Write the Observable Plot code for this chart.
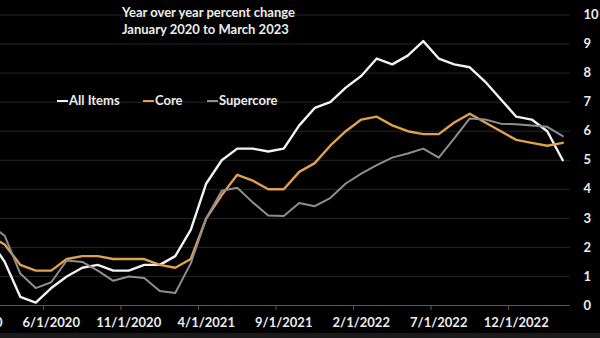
<!DOCTYPE html>
<html>
<head>
<meta charset="utf-8">
<script src="https://cdn.jsdelivr.net/npm/d3@7"></script>
<script src="https://cdn.jsdelivr.net/npm/@observablehq/plot@0.6"></script>
<style>
  html, body { margin: 0; padding: 0; background: #000; }
  #wrap { position: relative; width: 600px; height: 338px; overflow: hidden; background: #000;
          font-family: Lato, "Open Sans", sans-serif; font-weight: 700; color: #ececec; }
  #title { position: absolute; left: 122px; top: 4px; font-size: 13px; line-height: 17px; }
  .leg { position: absolute; top: 92px; font-size: 13px; line-height: 16px; white-space: nowrap; }
  .leg .sw { display: inline-block; width: 11px; height: 2px; vertical-align: middle; margin-right: 1px; position: relative; top: -1px; }
  #band { position: absolute; left: 0; top: 333px; width: 600px; height: 5px; background: #1b1b1b; }
  svg { display: block; }
</style>
</head>
<body>
<div id="wrap">
  <div id="chart"></div>
  <div id="title">Year over year percent change<br>January 2020 to March 2023</div>
  <div id="legend"></div>
  <div id="band"></div>
</div>
<script>
// Monthly year-over-year percent change, Jan 2020 .. Mar 2023
const allItems = [2.5,2.3,1.5,0.3,0.1,0.6,1.0,1.3,1.4,1.2,1.2,1.4,
                  1.4,1.7,2.6,4.2,5.0,5.4,5.4,5.3,5.4,6.2,6.8,7.0,
                  7.5,7.9,8.5,8.3,8.6,9.1,8.5,8.3,8.2,7.7,7.1,6.5,
                  6.4,6.0,5.0];
const core = [2.3,2.4,2.1,1.4,1.2,1.2,1.6,1.7,1.7,1.6,1.6,1.6,
              1.4,1.3,1.6,3.0,3.8,4.5,4.3,4.0,4.0,4.6,4.9,5.5,
              6.0,6.4,6.5,6.2,6.0,5.9,5.9,6.3,6.6,6.3,6.0,5.7,
              5.6,5.5,5.6];
const supercore = [2.8,2.8,2.4,1.1,0.6,0.8,1.55,1.5,1.2,0.85,1.0,0.95,
                   0.5,0.43,1.45,3.0,3.95,4.05,3.55,3.1,3.08,3.53,3.42,3.7,
                   4.2,4.54,4.83,5.09,5.23,5.4,5.09,5.75,6.44,6.4,6.26,6.24,
                   6.2,6.15,5.83];
const tickLabels = ["1/1/2020","6/1/2020","11/1/2020","4/1/2021","9/1/2021","2/1/2022","7/1/2022","12/1/2022"];
const tickIndex = [0,5,10,15,20,25,30,35];
const yTicks = [0,1,2,3,4,5,6,7,8,9,10];

const seriesNames = ["All Items","Core","Supercore"];
const seriesColors = ["#f2f2f2","#e0a04e","#8e8e8e"];
const seriesWidths = [2.4, 2.4, 2];
const seriesValues = [allItems, core, supercore];

const rows = seriesNames.flatMap((name, k) =>
  seriesValues[k].map((v, i) => ({series: name, i, v})));

const boundaries = tickIndex.map(i => i - 0.5);
const labelOf = new Map(tickIndex.map((t, k) => [t, tickLabels[k]]));

const chart = Plot.plot({
  width: 600,
  height: 333,
  marginLeft: 0,
  marginRight: 30,
  marginTop: 14.5,
  marginBottom: 28,
  style: {background: "#000", color: "#ececec", fontFamily: "Lato, 'Open Sans', sans-serif", fontSize: "13px", fontWeight: 700},
  x: {domain: [1.726, 38.5]},
  y: {domain: [0, 10]},
  marks: [
    Plot.gridY(yTicks.filter(d => d > 0), {stroke: "#262626", strokeOpacity: 1, strokeWidth: 1}),
    Plot.ruleY([0], {stroke: "#5a5a5a", strokeWidth: 1.2}),
    Plot.axisX({ticks: boundaries, tickSize: 5, stroke: "#5a5a5a", tickFormat: () => "", label: null}),
    Plot.axisX({ticks: tickIndex, tickSize: 0, tickPadding: 12, tickFormat: d => labelOf.get(d), label: null, fill: "#ececec"}),
    Plot.axisY({ticks: yTicks, anchor: "right", tickSize: 0, tickPadding: 13, textAnchor: "start", label: null, fill: "#ececec"}),
    ...seriesNames.map((name, k) =>
      Plot.line(rows.filter(r => r.series === name), {
        x: "i", y: "v", stroke: seriesColors[k], strokeWidth: seriesWidths[k], clip: true
      }))
  ]
});
document.getElementById("chart").appendChild(chart);

const legendLefts = [57, 143, 207];
const legend = document.getElementById("legend");
seriesNames.forEach((name, k) => {
  const d = document.createElement("div");
  d.className = "leg";
  d.style.left = legendLefts[k] + "px";
  d.innerHTML = `<span class="sw" style="background:${seriesColors[k]}"></span>${name}`;
  legend.appendChild(d);
});
</script>
</body>
</html>
